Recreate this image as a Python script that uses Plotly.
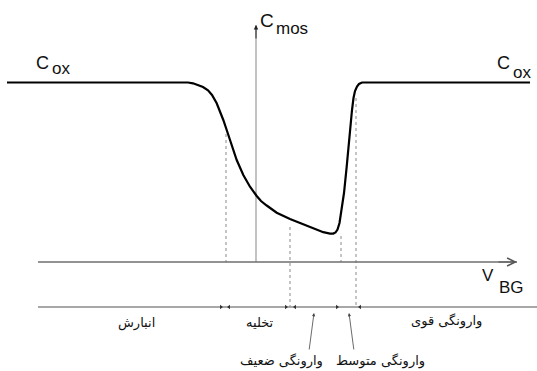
import plotly.graph_objects as go

# ---- data (diagram coordinates: x to the right, y downward, 537 x 371 frame) ----
curve_x = [7, 188, 193, 198, 203, 208, 212, 216.7, 220, 223.3, 226.7, 230, 236.7, 243.3,
           250, 256.7, 261, 266.7, 276.7, 290, 306.7, 323.3, 330, 333.3, 335.5, 337.5,
           339.5, 341.5, 344, 346.7, 349.3, 352, 353.5, 355, 357, 359, 362, 530]
curve_y = [82.5, 82.5, 83.3, 84.8, 87.0, 90.3, 95.0, 103.3, 111, 120, 130, 140, 160, 175,
           186.7, 196, 201, 205.5, 212.7, 219, 226, 232.2, 233.6, 233.6, 232.5, 229.5,
           223, 211, 193, 166.7, 136.7, 110, 98, 91, 86.5, 84, 82.5, 82.5]

# horizontal V_BG axis and region line
vbg_axis_y = 262
vbg_axis_x = [38, 517]
region_line_y = 307
region_line_x = [38, 537]

# vertical C_mos axis
cmos_x = 256
cmos_y = [262, 25]

# dotted guide lines: x, top, bottom
guide_x = [226, 290, 341, 356]
guide_top = [134, 227, 236, 98]
guide_bottom = [262, 307, 262, 307]

# region boundary marks on region line
mark_right_x = [221, 286, 337]
mark_left_x = [229, 295, 360]

# region labels
region_labels = ["انبارش", "تخلیه", "وارونگی قوی"]
region_label_x = [136, 260, 446]
region_label_y = [323, 322, 321]

pointer_labels = ["وارونگی ضعیف", "وارونگی متوسط"]
pointer_label_x = [281, 380]
pointer_label_y = [361, 361]
pointer_tip = [(314, 313), (349, 313)]
pointer_base = [(309, 351), (354, 351)]

fig = go.Figure()

# C_mos vertical axis
fig.add_trace(go.Scatter(x=[cmos_x, cmos_x], y=cmos_y, mode="lines",
                         line=dict(color="#9a9a9a", width=1.2), hoverinfo="skip"))
# guides
for gx, gt, gb in zip(guide_x, guide_top, guide_bottom):
    fig.add_trace(go.Scatter(x=[gx, gx], y=[gt, gb], mode="lines",
                             line=dict(color="#8a8a8a", width=1, dash="dot"),
                             hoverinfo="skip"))
# axes lines
fig.add_trace(go.Scatter(x=vbg_axis_x, y=[vbg_axis_y] * 2, mode="lines",
                         line=dict(color="#6e6e6e", width=1.3), hoverinfo="skip"))
fig.add_trace(go.Scatter(x=region_line_x, y=[region_line_y] * 2, mode="lines",
                         line=dict(color="#8a8a8a", width=1.5), hoverinfo="skip"))
# boundary marks
fig.add_trace(go.Scatter(x=mark_right_x, y=[region_line_y] * len(mark_right_x), mode="markers",
                         marker=dict(symbol="triangle-right", size=4, color="#333"),
                         hoverinfo="skip"))
fig.add_trace(go.Scatter(x=mark_left_x, y=[region_line_y] * len(mark_left_x), mode="markers",
                         marker=dict(symbol="triangle-left", size=4, color="#333"),
                         hoverinfo="skip"))
# C-V curve
fig.add_trace(go.Scatter(x=curve_x, y=curve_y, mode="lines",
                         line=dict(color="black", width=2.2, shape="linear"),
                         hoverinfo="skip"))

ann = []
# arrowheads for axes
ann.append(dict(x=vbg_axis_x[1], y=vbg_axis_y, ax=vbg_axis_x[1] - 20, ay=vbg_axis_y,
                xref="x", yref="y", axref="x", ayref="y", text="", showarrow=True,
                arrowhead=5, arrowsize=1.6, arrowwidth=1, arrowcolor="#555"))
ann.append(dict(x=cmos_x, y=cmos_y[1], ax=cmos_x, ay=cmos_y[1] + 15,
                xref="x", yref="y", axref="x", ayref="y", text="", showarrow=True,
                arrowhead=2, arrowsize=0.9, arrowwidth=1, arrowcolor="#222"))

sans = "Liberation Sans, Arial, sans-serif"
def txt(s, x, y, size, family=sans, color="#111"):
    ann.append(dict(x=x, y=y, xref="x", yref="y", text=s, showarrow=False,
                    font=dict(family=family, size=size, color=color),
                    xanchor="center", yanchor="middle"))

txt("C", 42, 63, 18)
txt("ox", 61, 68, 17)
txt("C", 503, 63, 18)
txt("ox", 522, 72, 17)
txt("C", 267, 20, 19)
txt("mos", 292, 28, 17)
txt("V", 488, 275, 17)
txt("BG", 511, 287, 17)

per = "DejaVu Sans, Noto Sans, sans-serif"
for s, x, y in zip(region_labels, region_label_x, region_label_y):
    txt(s, x, y, 13, family=per)
for s, x, y in zip(pointer_labels, pointer_label_x, pointer_label_y):
    txt(s, x, y, 13, family=per)
for (tx, ty), (bx, by) in zip(pointer_tip, pointer_base):
    ann.append(dict(x=tx, y=ty, ax=bx, ay=by, xref="x", yref="y", axref="x", ayref="y",
                    text="", showarrow=True, arrowhead=2, arrowsize=0.8,
                    arrowwidth=0.8, arrowcolor="#444"))

fig.update_layout(
    width=537, height=371, autosize=False,
    margin=dict(l=0, r=0, t=0, b=0),
    paper_bgcolor="white", plot_bgcolor="white",
    showlegend=False,
    xaxis=dict(range=[0, 537], visible=False, fixedrange=True),
    yaxis=dict(range=[371, 0], visible=False, fixedrange=True),
    annotations=ann,
)

fig.write_html("out.html", config={"displayModeBar": False, "staticPlot": True},
               post_script="document.body.style.margin='0';")
